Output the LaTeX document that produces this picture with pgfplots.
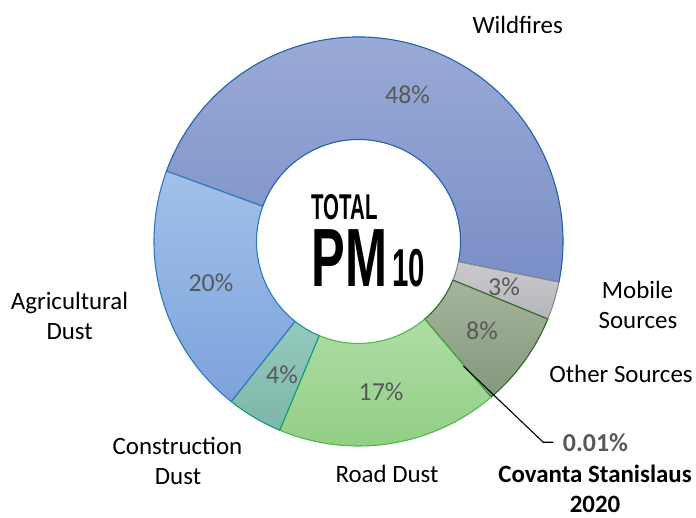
\documentclass[border=0pt]{standalone}
\usepackage{pgfplots}
\usepackage{pgfplotstable}
\usepackage{graphicx}
\usepackage{fontspec}
\pgfplotsset{compat=1.18}
\setmainfont{Carlito}
\newfontfamily\headfont{Liberation Sans}

\definecolor{top0}{HTML}{9DADD8}\definecolor{bot0}{HTML}{7A8FC7}\definecolor{edge0}{HTML}{2462AD}
\definecolor{top1}{HTML}{CACACE}\definecolor{bot1}{HTML}{B4B4BA}\definecolor{edge1}{HTML}{8A8A94}
\definecolor{top2}{HTML}{A5B59D}\definecolor{bot2}{HTML}{84977B}\definecolor{edge2}{HTML}{2F6A2C}
\definecolor{top3}{HTML}{A5B59D}\definecolor{bot3}{HTML}{84977B}\definecolor{edge3}{HTML}{1E4A1C}
\definecolor{top4}{HTML}{AEDDA5}\definecolor{bot4}{HTML}{8FCD82}\definecolor{edge4}{HTML}{52B848}
\definecolor{top5}{HTML}{95C9BE}\definecolor{bot5}{HTML}{7DB7A9}\definecolor{edge5}{HTML}{169A83}
\definecolor{top6}{HTML}{A2C1EA}\definecolor{bot6}{HTML}{7CA3DC}\definecolor{edge6}{HTML}{2F78C0}
\definecolor{pctgray}{HTML}{595959}

\pgfplotstableread{
name value
Wildfires 47.6
Mobile 3.0
Other 7.6
Covanta 0.01
Road 17.5
Construction 4.4
Agricultural 19.9
}\pmdata

\begin{document}
\begin{tikzpicture}
\def\cx{358.5}\def\cy{276.5}\def\Ro{204.5}\def\Ri{102}
\xdef\curang{159.9}
\foreach \i in {0,...,6}{
  \pgfplotstablegetelem{\i}{value}\of\pmdata
  \pgfmathsetmacro\a{\curang}
  \pgfmathsetmacro\b{\curang-3.6*\pgfplotsretval}
  \expandafter\xdef\csname sa\i\endcsname{\a}
  \expandafter\xdef\csname ea\i\endcsname{\b}
  \xdef\curang{\b}
}
\begin{axis}[
  hide axis, x=1bp, y=1bp,
  xmin=0, xmax=696, ymin=0, ymax=518,
  clip=false, scale only axis
]
\path (axis cs:0,0) rectangle (axis cs:696,518);
\pgfplotsinvokeforeach{0,...,6}{
  \filldraw[draw=edge#1, top color=top#1, bottom color=bot#1, line width=1.1pt, line join=round]
    (axis cs:{\cx+\Ro*cos(\csname sa#1\endcsname)},{\cy+\Ro*sin(\csname sa#1\endcsname)})
    arc[start angle=\csname sa#1\endcsname, end angle=\csname ea#1\endcsname, radius=\Ro bp]
    -- (axis cs:{\cx+\Ri*cos(\csname ea#1\endcsname)},{\cy+\Ri*sin(\csname ea#1\endcsname)})
    arc[start angle=\csname ea#1\endcsname, end angle=\csname sa#1\endcsname, radius=\Ri bp]
    -- cycle;
}
% percentage labels
\begin{scope}[every node/.style={inner sep=0pt, anchor=base, text=pctgray, font=\fontsize{26}{30}\selectfont}]
\node at (axis cs:407.5,414.7) {48\%};
\node at (axis cs:504,222) {3\%};
\node at (axis cs:482,178) {8\%};
\node at (axis cs:381,117) {17\%};
\node at (axis cs:282,134) {4\%};
\node at (axis cs:211,226) {20\%};
\end{scope}
% category labels
\begin{scope}[every node/.style={inner sep=0pt, anchor=base, text=black, font=\fontsize{25}{30}\selectfont}]
\node at (axis cs:517.7,484.7) {Wildfires};
\node at (axis cs:637.5,219) {Mobile};
\node at (axis cs:638,189) {Sources};
\node at (axis cs:621,135.3) {Other Sources};
\node at (axis cs:387,35.3) {Road Dust};
\node at (axis cs:177.5,63) {Construction};
\node at (axis cs:178,33) {Dust};
\node at (axis cs:69.5,208.7) {Agricultural};
\node at (axis cs:69.7,178) {Dust};
\node[font=\fontsize{25}{30}\selectfont\bfseries] at (axis cs:595,35) {Covanta Stanislaus};
\node[font=\fontsize{25}{30}\selectfont\bfseries] at (axis cs:595,5) {2020};
\node[font=\fontsize{26}{30}\selectfont\bfseries, text=pctgray] at (axis cs:595.5,66.3) {0.01\%};
\end{scope}
\draw[black, line width=1.1pt] (axis cs:463.3,152) -- (axis cs:543.3,75.7) -- (axis cs:553.3,75.7);
% centre title (one text block)
\node[inner sep=0pt, anchor=base west] at (axis cs:311.5,231.3) {\headfont\bfseries
  \rlap{\raisebox{67.4bp}{\fontsize{36}{36}\selectfont\scalebox{0.57}[1]{TOTAL}}}%
  {\fontsize{83}{83}\selectfont\scalebox{0.61}[1]{PM}}\hspace{5bp}%
  {\fontsize{53.6}{54}\selectfont\scalebox{0.55}[1]{10}}};
\end{axis}
\end{tikzpicture}
\end{document}
